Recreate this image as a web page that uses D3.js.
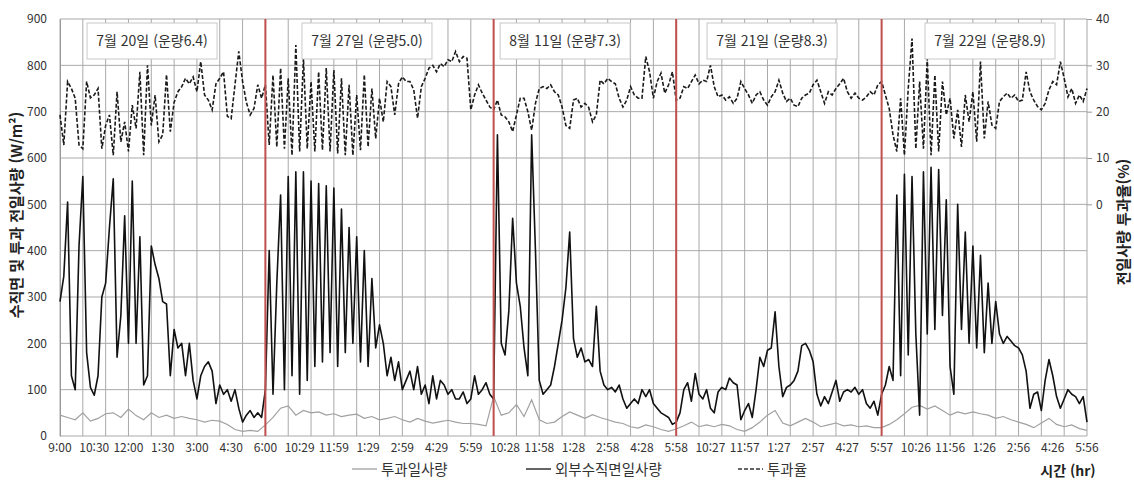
<!DOCTYPE html>
<html lang="ko">
<head>
<meta charset="utf-8">
<script src="https://d3js.org/d3.v7.min.js"></script>
<style>
  body { margin: 0; background: #fff; }
  text { font-family: "Noto Sans CJK KR", "Noto Sans", sans-serif; }
</style>
</head>
<body>
<div id="chart"></div>
<script>
// x unit = minutes of measurement (5 days glued together)
const outerStep = 10, transStep = 20, ratioStep = 10;

// 외부수직면일사량 (W/m²), one value every 10 units
const outerVals = [
  // 7/20
  290, 345, 505, 130, 100, 410, 560, 180, 105, 88, 130, 300, 330, 450, 555, 170, 260, 475, 200, 550,
  200, 430, 110, 130, 410, 370, 340, 290, 285, 130, 230, 190, 200, 130, 200, 120, 80, 130, 150, 160,
  140, 70, 110, 90, 100, 75, 100, 60, 30, 45, 55, 40, 50, 40,
  // 7/27
  100, 400, 90, 330, 520, 100, 560, 130, 570, 90, 570, 120, 550, 150, 545, 160, 540, 180, 535, 150,
  490, 180, 450, 200, 430, 160, 400, 150, 340, 190, 240, 200, 130, 170, 120, 160, 100, 120, 140, 100,
  150, 90, 110, 70, 130, 80, 120, 110, 90, 100, 80, 80, 95, 70, 80, 130, 90, 100, 115, 90,
  // 8/11
  80, 650, 200, 175, 270, 470, 330, 280, 190, 130, 650, 400, 120, 90, 100, 110, 150, 200, 250, 320,
  440, 210, 170, 190, 160, 165, 150, 280, 140, 110, 100, 105, 95, 110, 80, 60, 70, 80, 70, 100,
  85, 100, 70, 60, 50, 45, 40, 25, 30,
  // 7/21
  50, 100, 115, 75, 135, 90, 80, 100, 60, 50, 95, 105, 100, 125, 115, 110, 35, 55, 70, 40,
  100, 170, 150, 185, 190, 268, 150, 85, 105, 110, 120, 140, 195, 200, 185, 160, 90, 65, 85, 70,
  95, 120, 75, 95, 100, 95, 105, 90, 100, 70, 60, 75, 45,
  // 7/22
  90, 110, 150, 120, 520, 130, 565, 175, 560, 220, 45, 570, 220, 580, 230, 575, 260, 510, 150, 90,
  500, 230, 440, 200, 410, 190, 390, 180, 330, 200, 290, 220, 200, 215, 205, 195, 190, 175, 140, 60,
  90, 95, 55, 120, 165, 130, 85, 60, 80, 100, 90, 85, 70, 85, 30
];

// 투과일사량 (W/m²), one value every 20 units
const transVals = [
  45, 40, 35, 50, 32, 38, 48, 50, 40, 58, 44, 35, 50, 40, 45, 38, 42, 38, 35, 30,
  34, 32, 25, 14, 10, 12, 10,
  24, 40, 60, 65, 45, 55, 50, 52, 45, 48, 42, 45, 47, 38, 42, 35, 38, 42, 35, 30,
  38, 32, 28, 31, 34, 30, 27, 27, 25, 22,
  85, 45, 50, 68, 42, 78, 35, 27, 30, 42, 52, 45, 38, 46, 40, 35, 30, 27, 20, 17,
  24, 20, 14, 10,
  15, 22, 30, 20, 24, 20, 25, 22, 14, 10, 18, 30, 45, 55, 28, 22, 30, 38, 30, 20,
  24, 28, 22, 24, 20, 22, 18,
  18, 25, 35, 48, 62, 66, 58, 65, 55, 45, 52, 48, 52, 48, 45, 38, 42, 35, 30, 25,
  18, 28, 38, 25, 20, 24, 16, 12
];

// 투과율 (%), one value every 10 units
const ratioVals = [
  // 7/20
  19.3, 12.8, 26.5, 25, 22.9, 12.8, 12, 26.5, 23, 23.6, 25, 12, 17, 19.3, 10.6, 24.3, 13.5, 17.8, 11.4, 21.4,
  16.4, 28.6, 10.6, 30, 17, 23.6, 13.5, 15, 28, 15.7, 22, 24.3, 25.4, 27.2, 26, 27.5, 24.3, 30.8, 23.6, 22.5,
  20.4, 26, 27.2, 28.6, 19, 18.5, 25.8, 33, 26.5, 22, 19.3, 20.7, 25.8, 22.9,
  // 7/27
  25.8, 12.8, 27.9, 12.4, 29.4, 12, 27.2, 10.6, 34.4, 11.4, 31.5, 12, 26.5, 11.4, 28.6, 11.7, 29.4, 11.4, 29, 11,
  27.2, 10.6, 25.8, 10.6, 23.6, 11.7, 28, 12.4, 25, 14.2, 22.9, 17.8, 26.5, 25.4, 19.3, 26, 27.5, 26.5, 26.5, 24.7,
  18.6, 25.4, 27.2, 29.4, 30, 28.6, 30.4, 29.7, 31.2, 30.8, 33, 30.8, 31.9, 31.5, 20.4, 23.6, 25.8, 24, 22.5, 21,
  // 8/11
  20.4, 22.5, 19.3, 18.9, 17.8, 15.7, 19.3, 22.9, 22.9, 20, 16, 21.8, 25, 25.4, 25, 25.8, 24.3, 23.6, 21, 17,
  16.4, 22.5, 22.9, 21, 21.8, 20.9, 17.8, 19.3, 26.8, 26, 27.2, 26.5, 26, 22.9, 21, 22.5, 25.4, 23.6, 22.9, 22.9,
  31.9, 28.6, 22.9, 26.5, 28.3, 24, 25.8, 28.6, 22.5,
  // 7/21
  22.9, 25.4, 25, 26.5, 27.9, 26, 26.8, 26.5, 30, 25.4, 23.2, 23.6, 22.5, 23.2, 21.8, 22.9, 26.5, 25, 23.6, 21.8,
  23.6, 24.3, 22.5, 21.4, 23.2, 24.3, 26.8, 24, 22.2, 22.9, 21.4, 21.1, 22.9, 23.6, 24, 25.8, 26.8, 24.3, 21.8, 24.3,
  23.6, 25, 26, 27.2, 24.3, 22.9, 24, 22.9, 22.5, 23.2, 24.3, 23.6, 25.8,
  // 7/22
  26.5, 23.6, 20.7, 15, 11.4, 22.9, 10.6, 25, 35.8, 12, 26.5, 12, 31.5, 10.6, 27.9, 11.4, 26.5, 19.3, 22.9, 14.2,
  20.4, 12.4, 23.6, 17.8, 24.3, 13.5, 30.8, 14.2, 22.2, 17.1, 16.4, 22.2, 23.2, 24, 22.9, 23.6, 22.2, 22.5, 28.6, 24.3,
  22.5, 21.1, 20.4, 21.8, 24.7, 26.5, 25.8, 30.8, 27.2, 23.2, 25, 21.8, 23.6, 22.2, 25
];

const xTickLabels = [
  "9:00", "10:30", "12:00", "1:30", "3:00", "4:30", "6:00",
  "10:29", "11:59", "1:29", "2:59", "4:29", "5:59",
  "10:28", "11:58", "1:28", "2:58", "4:28", "5:58",
  "10:27", "11:57", "1:27", "2:57", "4:27", "5:57",
  "10:26", "11:56", "1:26", "2:56", "4:26", "5:56"
];
const dayBreaks = [540, 1140, 1620, 2160];
const dayNotes = ["7월 20일 (운량6.4)", "7월 27일 (운량5.0)", "8월 11일 (운량7.3)", "7월 21일 (운량8.3)", "7월 22일 (운량8.9)"];
const noteAt = [242, 807, 1328, 1872, 2445];

const W = 1134, H = 482;
const svg = d3.select("#chart").append("svg").attr("width", W).attr("height", H);

const x = d3.scaleLinear().domain([0, 2700]).range([60, 1087]);
const y = d3.scaleLinear().domain([0, 900]).range([436, 19]);
const yR = d3.scaleLinear().domain([-50, 40]).range([436, 19]);

// grid
svg.append("g").selectAll("line")
  .data(d3.range(0, 901, 100))
  .join("line")
  .attr("x1", x(0)).attr("x2", x(2700))
  .attr("y1", d => y(d)).attr("y2", d => y(d))
  .attr("stroke", "#a9a9a9").attr("stroke-width", 1);

svg.append("g").selectAll("line")
  .data(d3.range(0, 2701, 60))
  .join("line")
  .attr("x1", d => x(d)).attr("x2", d => x(d))
  .attr("y1", y(900)).attr("y2", y(0))
  .attr("stroke", "#a9a9a9").attr("stroke-width", 1);

// left axis
const yAxis = svg.append("g")
  .attr("transform", `translate(${x(0)},0)`)
  .call(d3.axisLeft(y).tickValues(d3.range(0, 901, 100)).tickSize(0).tickPadding(13));
yAxis.select(".domain").attr("stroke", "#999");
yAxis.selectAll("text").style("font-size", "12px").attr("fill", "#333");

// right axis
const yAxisR = svg.append("g")
  .attr("transform", `translate(${x(2700)},0)`)
  .call(d3.axisRight(yR).tickValues([0, 10, 20, 30, 40]).tickSize(5).tickPadding(4));
yAxisR.select(".domain").remove();
yAxisR.selectAll("line").attr("stroke", "#999");
yAxisR.selectAll("text").style("font-size", "12px").attr("fill", "#333");

// x tick labels
svg.append("g").selectAll("text")
  .data(xTickLabels)
  .join("text")
  .attr("x", (d, i) => x(i * 90))
  .attr("y", 452)
  .attr("text-anchor", "middle")
  .style("font-size", "12px")
  .attr("fill", "#333")
  .text(d => d);

// series
const lineOf = (scale, step) => d3.line().x((d, i) => x(i * step)).y(d => scale(d));

svg.append("path")
  .datum(transVals)
  .attr("d", lineOf(y, transStep))
  .attr("fill", "none").attr("stroke", "#a0a0a0").attr("stroke-width", 1.2);

svg.append("path")
  .datum(outerVals)
  .attr("d", lineOf(y, outerStep))
  .attr("fill", "none").attr("stroke", "#111").attr("stroke-width", 1.6)
  .attr("stroke-linejoin", "round");

svg.append("path")
  .datum(ratioVals)
  .attr("d", lineOf(yR, ratioStep))
  .attr("fill", "none").attr("stroke", "#1a1a1a").attr("stroke-width", 1.6)
  .attr("stroke-dasharray", "4,2");

// day separators
svg.append("g").selectAll("line")
  .data(dayBreaks)
  .join("line")
  .attr("x1", d => x(d)).attr("x2", d => x(d))
  .attr("y1", y(900)).attr("y2", y(0))
  .attr("stroke", "#c0504d").attr("stroke-width", 2);

// day notes
const notes = svg.append("g").selectAll("g")
  .data(dayNotes)
  .join("g")
  .attr("transform", (d, i) => `translate(${x(noteAt[i])},41)`);
notes.append("rect")
  .attr("x", -65).attr("y", -18).attr("width", 130).attr("height", 36)
  .attr("fill", "#fff").attr("stroke", "#c8c8c8");
notes.append("text")
  .attr("text-anchor", "middle").attr("y", 5)
  .style("font-size", "14px").attr("fill", "#333")
  .text(d => d);

// axis titles
svg.append("text")
  .attr("transform", "translate(22,215) rotate(-90)")
  .attr("text-anchor", "middle")
  .style("font-size", "15px").style("font-weight", "bold").attr("fill", "#222")
  .text("수직면 및 투과 전일사량 (W/m²)");

svg.append("text")
  .attr("transform", "translate(1129,222) rotate(-90)")
  .attr("text-anchor", "middle")
  .style("font-size", "15px").style("font-weight", "bold").attr("fill", "#222")
  .text("전일사량 투과율(%)");

svg.append("text")
  .attr("x", 1068).attr("y", 476)
  .attr("text-anchor", "middle")
  .style("font-size", "14px").style("font-weight", "bold").attr("fill", "#222")
  .text("시간 (hr)");

// legend
const legend = [
  { name: "투과일사량", x0: 352, color: "#a0a0a0", dash: null },
  { name: "외부수직면일사량", x0: 526, color: "#111", dash: null },
  { name: "투과율", x0: 738, color: "#333", dash: "4,2" }
];
const lg = svg.append("g").selectAll("g").data(legend).join("g")
  .attr("transform", d => `translate(${d.x0},470)`);
lg.append("line")
  .attr("x1", 0).attr("x2", 25).attr("y1", -1).attr("y2", -1)
  .attr("stroke", d => d.color).attr("stroke-width", 1.3)
  .attr("stroke-dasharray", d => d.dash);
lg.append("text")
  .attr("x", 29).attr("y", 5)
  .style("font-size", "14.5px").attr("fill", "#333")
  .text(d => d.name);
</script>
</body>
</html>
